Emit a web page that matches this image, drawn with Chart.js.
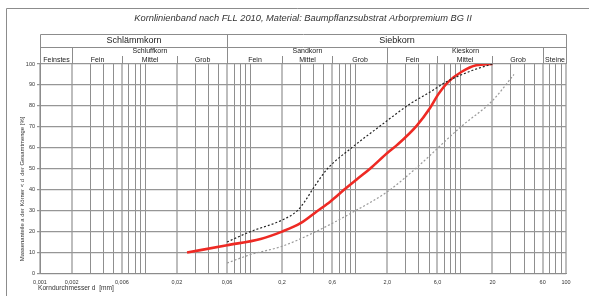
<!DOCTYPE html>
<html>
<head>
<meta charset="utf-8">
<script src="https://cdn.jsdelivr.net/npm/chart.js@4.4.1/dist/chart.umd.min.js"></script>
<style>
  body { margin: 0; background: #fff; }
  canvas { display: block; }
</style>
</head>
<body>
<canvas id="chart" width="589" height="296"></canvas>
<script>
// Kornlinien: Durchmesser d [mm] und Massenanteil [%]
const mainD = [0.025, 0.06, 0.125, 0.2, 0.3, 0.43, 0.58, 0.77, 1.03, 1.37, 2.0, 2.5, 3.8, 5.1, 6.1, 7.6, 10.2, 14, 20];
const mainP = [10, 13.5, 16.5, 20, 24, 29.7, 34.5, 39.8, 45, 50, 57.5, 61.5, 70.5, 79, 85.5, 91.5, 96.3, 99.4, 100];

const upperD = [0.06, 0.1, 0.2, 0.28, 0.33, 0.4, 0.54, 0.89, 1.72, 3.3, 5.1, 7.3, 13, 20];
const upperP = [15, 20, 25.5, 30, 34.5, 41, 50, 59.5, 70.5, 81, 86.6, 91.5, 97, 100];

const lowerD = [0.06, 0.1, 0.2, 0.4, 1.0, 2.0, 3.7, 10, 20, 32];
const lowerP = [5, 9, 13, 19.5, 30, 39, 50, 70, 82.5, 95];

// Achsenbeschriftung
const xTickVals = [0.001, 0.002, 0.006, 0.02, 0.06, 0.2, 0.6, 2, 6, 20, 60, 100];
const xTickLabels = ['0,001', '0,002', '0,006', '0,02', '0,06', '0,2', '0,6', '2,0', '6,0', '20', '60', '100'];
const yTickVals = [0, 10, 20, 30, 40, 50, 60, 70, 80, 90, 100];

// Kopftabelle: Gruppen und Untergruppen
const groupNames = ['Schlämmkorn', 'Siebkorn'];
const groupBounds = [[0.001, 0.06], [0.06, 100]];
const classNames = ['Schluffkorn', 'Sandkorn', 'Kieskorn'];
const classBounds = [[0.002, 0.06], [0.06, 2], [2, 60]];
const subNames = ['Feinstes', 'Fein', 'Mittel', 'Grob', 'Fein', 'Mittel', 'Grob', 'Fein', 'Mittel', 'Grob', 'Steine'];
const subBounds = [0.001, 0.002, 0.006, 0.02, 0.06, 0.2, 0.6, 2, 6, 20, 60, 100];
const fullDividers = [0.002, 0.06, 2, 60];

const FONT = '"Liberation Sans Narrow", "Liberation Sans", Arial, sans-serif';

// Rasterlinien 1..9 je Dekade
const gridVals = [];
for (let e = -3; e <= 1; e++) {
  for (let m = 1; m <= 9; m++) gridVals.push(Number((m * Math.pow(10, e)).toPrecision(3)));
}
gridVals.push(100);

const toPoints = (ds, ps) => ds.map((d, i) => ({ x: d, y: ps[i] }));

// Kopf, Rahmen und Titel zeichnen
const headerPlugin = {
  id: 'header',
  afterDraw(chart) {
    const ctx = chart.ctx;
    const area = chart.chartArea;
    const px = v => Math.round(chart.scales.x.getPixelForValue(v)) + 0.5;
    const top = 34.5, mid = 47.5, bot = area.top;

    ctx.save();
    ctx.strokeStyle = '#8c8c8c';
    ctx.lineWidth = 1;

    // Rahmen
    ctx.beginPath();
    ctx.moveTo(6.5, 296); ctx.lineTo(6.5, 8.5); ctx.lineTo(589, 8.5);
    ctx.stroke();

    // Tabelle
    const l = px(0.001), r = px(100);
    ctx.beginPath();
    ctx.moveTo(l, bot); ctx.lineTo(l, top); ctx.lineTo(r, top); ctx.lineTo(r, bot);
    ctx.moveTo(l, mid); ctx.lineTo(r, mid);
    ctx.moveTo(px(0.06), top); ctx.lineTo(px(0.06), bot);
    fullDividers.forEach(v => { ctx.moveTo(px(v), mid); ctx.lineTo(px(v), bot); });
    subBounds.forEach(v => {
      if (fullDividers.includes(v) || v === 0.001 || v === 100) return;
      ctx.moveTo(px(v), 56); ctx.lineTo(px(v), bot);
    });
    ctx.stroke();

    ctx.fillStyle = '#222';
    ctx.textAlign = 'center';
    ctx.textBaseline = 'middle';

    ctx.font = '9px ' + FONT;
    groupNames.forEach((n, i) => {
      ctx.fillText(n, (px(groupBounds[i][0]) + px(groupBounds[i][1])) / 2, 41);
    });
    ctx.font = '7px ' + FONT;
    classNames.forEach((n, i) => {
      ctx.fillText(n, (px(classBounds[i][0]) + px(classBounds[i][1])) / 2, 51.5);
    });
    subNames.forEach((n, i) => {
      ctx.fillText(n, (px(subBounds[i]) + px(subBounds[i + 1])) / 2, 60.5);
    });

    // Titel
    ctx.font = 'italic 9.3px ' + FONT;
    ctx.fillStyle = '#333';
    ctx.fillText('Kornlinienband nach FLL 2010, Material: Baumpflanzsubstrat Arborpremium BG II', (area.left + area.right) / 2, 18);

    // Achsentitel
    ctx.font = '6.6px ' + FONT;
    ctx.textAlign = 'left';
    ctx.fillText('Korndurchmesser d  [mm]', 38, 288);
    ctx.font = '5.9px ' + FONT;
    ctx.translate(22, 189);
    ctx.rotate(-Math.PI / 2);
    ctx.textAlign = 'center';
    ctx.fillText('Massenanteile a der Körner < d  der Gesamtmenge [%]', 0, 0);
    ctx.restore();
  }
};

new Chart(document.getElementById('chart'), {
  type: 'line',
  data: {
    datasets: [
      {
        data: toPoints(upperD, upperP),
        borderColor: '#222',
        borderWidth: 1.2,
        borderDash: [2, 2],
        pointRadius: 0,
        cubicInterpolationMode: 'monotone'
      },
      {
        data: toPoints(lowerD, lowerP),
        borderColor: '#999',
        borderWidth: 1.2,
        borderDash: [2, 2],
        pointRadius: 0,
        cubicInterpolationMode: 'monotone'
      },
      {
        data: toPoints(mainD, mainP),
        borderColor: '#ee2a24',
        borderWidth: 2.6,
        pointRadius: 0,
        cubicInterpolationMode: 'monotone'
      }
    ]
  },
  options: {
    responsive: false,
    animation: false,
    layout: { padding: { left: 0, top: 64, right: 23, bottom: 0 } },
    plugins: { legend: { display: false }, tooltip: { enabled: false } },
    scales: {
      x: {
        type: 'logarithmic',
        min: 0.001,
        max: 100,
        afterBuildTicks: scale => { scale.ticks = gridVals.map(v => ({ value: v })); },
        afterFit: scale => { scale.height = 22.5; },
        border: { color: '#8c8c8c', width: 1 },
        grid: {
          drawTicks: false,
          color: ctx => xTickVals.includes(ctx.tick && ctx.tick.value) ? '#bdbdbd' : '#8f8f8f',
          lineWidth: ctx => xTickVals.includes(ctx.tick && ctx.tick.value) ? 2 : 1
        },
        ticks: {
          autoSkip: false,
          maxRotation: 0,
          padding: 6,
          color: '#333',
          font: { family: FONT, size: 5.5 },
          callback: v => {
            const i = xTickVals.indexOf(v);
            return i >= 0 ? xTickLabels[i] : '';
          }
        }
      },
      y: {
        min: 0,
        max: 100,
        afterBuildTicks: scale => { scale.ticks = yTickVals.map(v => ({ value: v })); },
        afterFit: scale => { scale.width = 40; },
        border: { color: '#8c8c8c', width: 1 },
        grid: { color: '#969696', lineWidth: 1.2, tickLength: 3 },
        ticks: {
          padding: 2,
          color: '#333',
          font: { family: FONT, size: 5.5 }
        }
      }
    }
  },
  plugins: [headerPlugin]
});
</script>
</body>
</html>
